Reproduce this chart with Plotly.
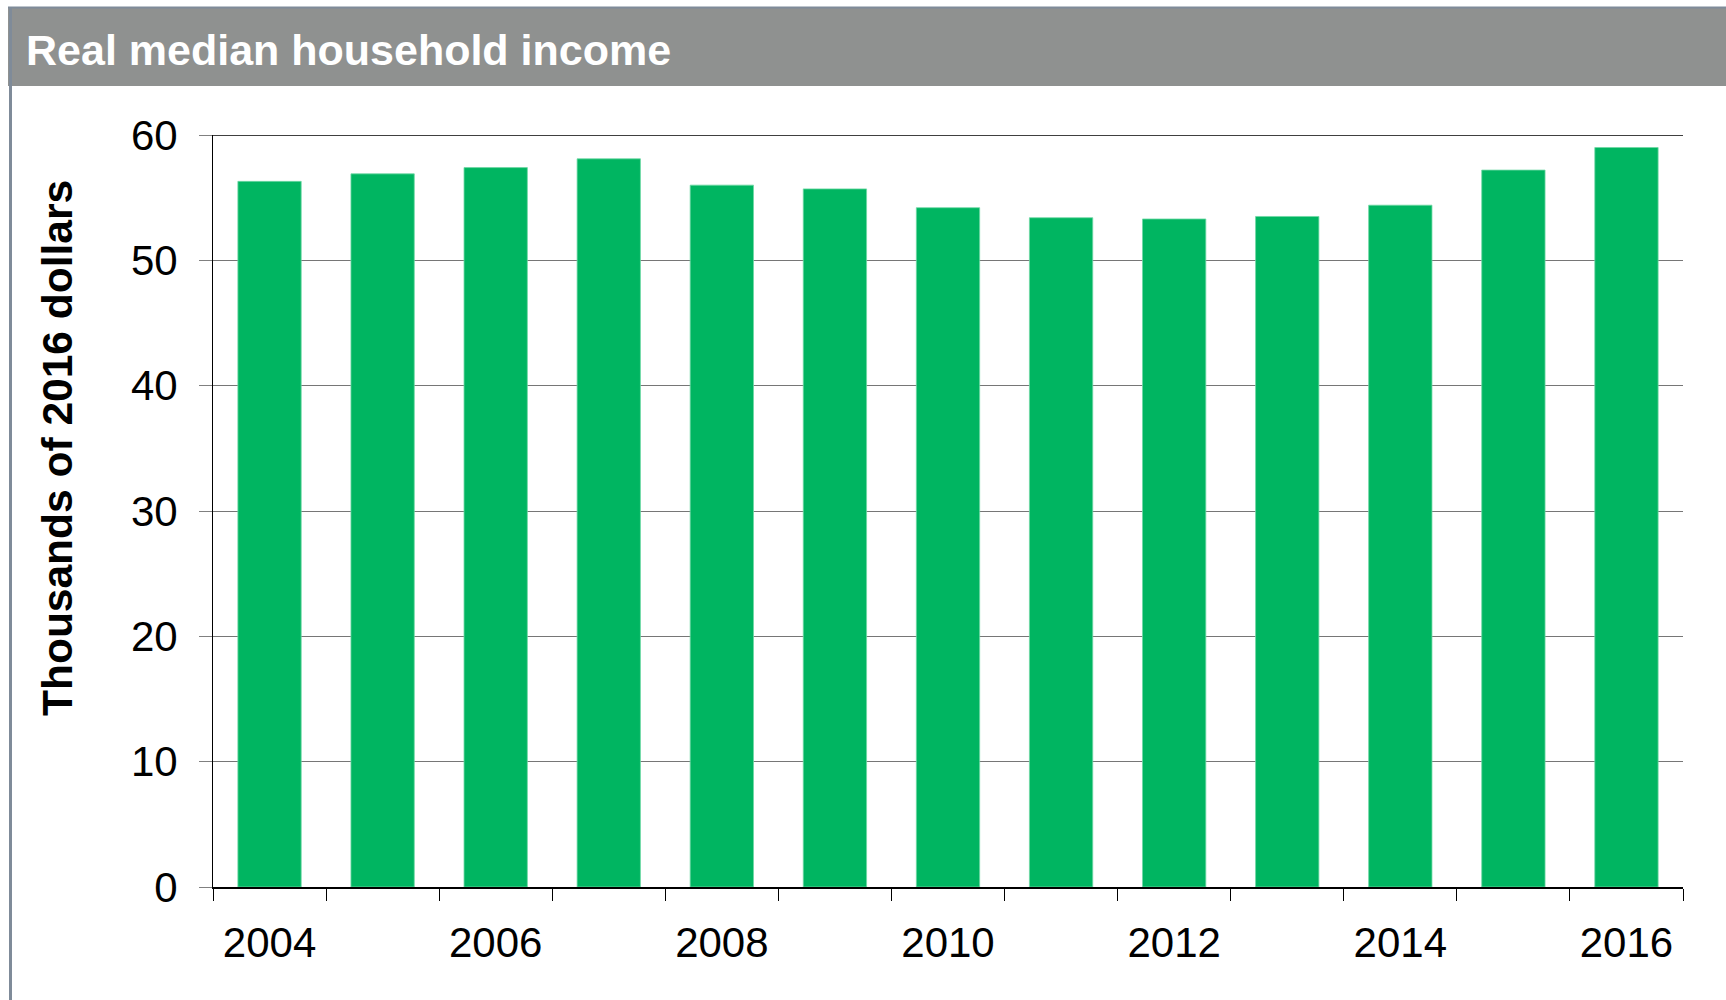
import plotly.graph_objects as go

# Real median household income, thousands of 2016 dollars
years = list(range(2004, 2017))
income = [56.3, 56.9, 57.4, 58.1, 56.0, 55.7, 54.2, 53.4, 53.3, 53.5, 54.4, 57.2, 59.0]
y_ticks = [0, 10, 20, 30, 40, 50, 60]
x_labels = [2004, 2006, 2008, 2010, 2012, 2014, 2016]

title_text = "Real median household income"
y_title = "Thousands of 2016 dollars"

W, H = 1726, 1000
L, R, T, B = 213, 43, 135, 113
PW = W - L - R
PH = H - T - B


def px_x(p):
    """Pixel column -> paper x."""
    return (p - L) / PW


def px_y(p):
    """Pixel row (from top) -> paper y."""
    return (H - B - p) / PH


FONT = "Liberation Sans, Arial, Helvetica, sans-serif"
GREEN = "#00b561"
HEADER = "#8f9190"
FRAME = "#7f8b99"

fig = go.Figure(
    go.Bar(
        x=years,
        y=income,
        width=0.56,
        marker=dict(color=GREEN, line=dict(color="#6fd8a4", width=0.8)),
        hoverinfo="x+y",
    )
)

fig.update_layout(
    width=W,
    height=H,
    margin=dict(l=L, r=R, t=T, b=B),
    paper_bgcolor="white",
    plot_bgcolor="white",
    showlegend=False,
    bargap=0.44,
    font=dict(family=FONT, color="black"),
    title=dict(
        text=title_text,
        font=dict(family=FONT, size=43, color="white", weight="bold"),
        x=26 / W,
        xanchor="left",
        xref="container",
        y=1 - 50 / H,
        yanchor="middle",
        yref="container",
    ),
    xaxis=dict(
        range=[years[0] - 0.5, years[-1] + 0.5],
        tickmode="array",
        tickvals=x_labels,
        ticktext=[str(v) for v in x_labels],
        ticks="",
        tickfont=dict(size=42, color="black"),
        ticklabelstandoff=18,
        showline=True,
        linecolor="black",
        linewidth=1.5,
        showgrid=False,
        zeroline=False,
        minor=dict(
            tick0=years[0] - 0.5,
            dtick=1,
            ticks="outside",
            ticklen=12,
            tickwidth=1.2,
            tickcolor="black",
            showgrid=False,
        ),
    ),
    yaxis=dict(
        range=[0, 60],
        tickmode="array",
        tickvals=y_ticks,
        ticks="outside",
        ticklen=13,
        tickwidth=1,
        tickcolor="#808080",
        tickfont=dict(size=42, color="black"),
        ticklabelstandoff=13,
        showgrid=True,
        gridcolor="#767676",
        gridwidth=1,
        showline=True,
        linecolor="black",
        linewidth=1,
        zeroline=False,
    ),
    shapes=[
        # header band
        dict(type="rect", xref="paper", yref="paper",
             x0=px_x(8), x1=px_x(W + 5), y0=px_y(86), y1=px_y(7),
             fillcolor=HEADER, line=dict(width=0), layer="below"),
        # header top edge
        dict(type="line", xref="paper", yref="paper",
             x0=px_x(8), x1=px_x(W + 5), y0=px_y(7.5), y1=px_y(7.5),
             line=dict(color=FRAME, width=2)),
        # left frame edge
        dict(type="line", xref="paper", yref="paper",
             x0=px_x(10.5), x1=px_x(10.5), y0=px_y(7), y1=px_y(H + 5),
             line=dict(color=FRAME, width=3)),
        # top rule at the axis maximum
        dict(type="line", xref="paper", yref="y",
             x0=0, x1=1, y0=y_ticks[-1], y1=y_ticks[-1],
             line=dict(color="black", width=1.5)),
    ],
    annotations=[
        dict(
            text=y_title,
            xref="paper", yref="paper",
            x=px_x(57), y=px_y(448),
            xanchor="center", yanchor="middle",
            textangle=-90,
            showarrow=False,
            font=dict(family=FONT, size=42.5, color="black", weight="bold"),
        )
    ],
)

fig.write_html("out.html")
